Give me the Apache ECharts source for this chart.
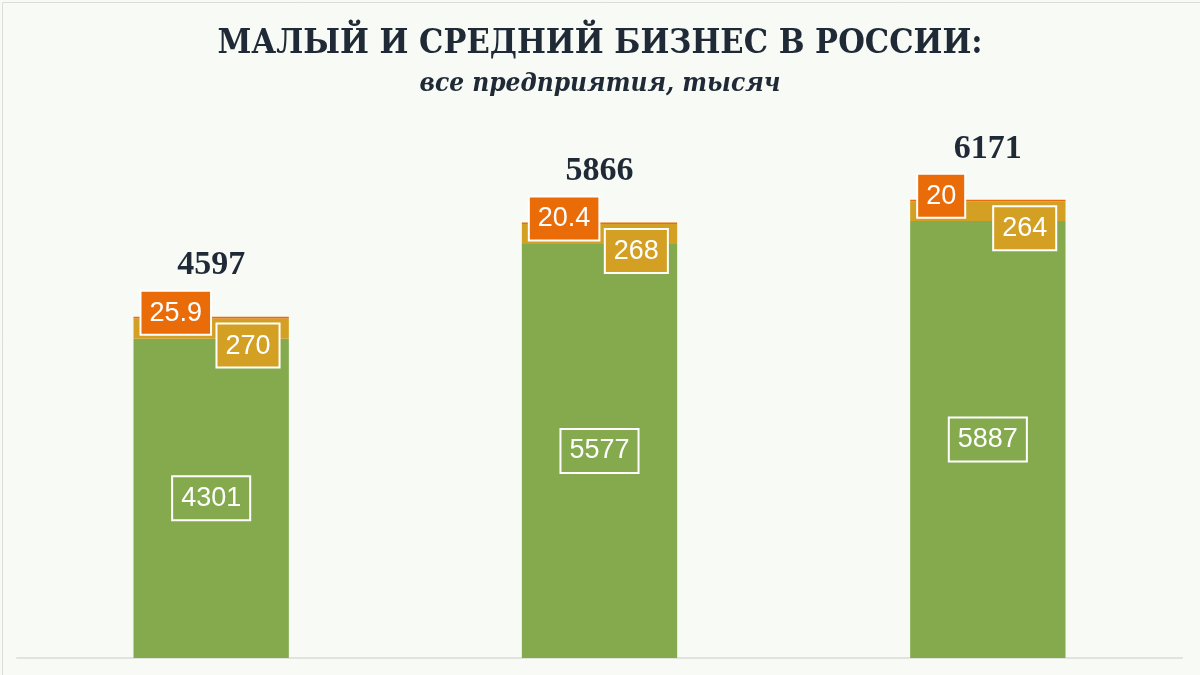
<!DOCTYPE html>
<html>
<head>
<meta charset="utf-8">
<script src="https://cdn.jsdelivr.net/npm/echarts@6/dist/echarts.min.js"></script>
<style>
html,body{margin:0;padding:0;background:#f8fbf5;}
#chart{width:1200px;height:675px;}
</style>
</head>
<body>
<div id="chart"></div>
<script>
// Data
const categories = ['A', 'B', 'C'];
const smallValues = [4301, 5577, 5887];   // green
const mediumValues = [270, 268, 264];     // gold
const largeValues = [25.9, 20.4, 20];     // orange
const totals = [4597, 5866, 6171];

const titleText = 'МАЛЫЙ И СРЕДНИЙ БИЗНЕС В РОССИИ:';
const subtitleText = 'все предприятия, тысяч';

const GREEN = '#84aa4d', GOLD = '#d3a024', ORANGE = '#ea6c09';
const boxLabel = (bg) => ({
  show: true,
  color: '#ffffff',
  fontFamily: 'Liberation Sans, Arial, sans-serif',
  fontSize: 27,
  backgroundColor: bg,
  borderColor: '#ffffff',
  borderWidth: 2,
  padding: [8, 8, 7, 8]
});

const chart = echarts.init(document.getElementById('chart'), null, {renderer: 'canvas'});
chart.setOption({
  backgroundColor: '#f8fbf5',
  animation: false,
  title: {
    text: titleText,
    subtext: subtitleText,
    left: 'center',
    top: 22,
    itemGap: 10,
    textStyle: {
      fontFamily: 'DejaVu Serif Condensed, DejaVu Serif, serif',
      fontWeight: 'bold',
      fontSize: 34,
      color: '#1f2a36'
    },
    subtextStyle: {
      fontFamily: 'DejaVu Serif Condensed, DejaVu Serif, serif',
      fontWeight: 'bold',
      fontStyle: 'italic',
      fontSize: 26,
      color: '#1f2a36'
    }
  },
  grid: {left: 17, right: 18, top: 64, bottom: 17},
  xAxis: {
    type: 'category',
    data: categories,
    axisLine: {show: true, lineStyle: {color: '#e2e3df', width: 2}},
    axisTick: {show: false},
    axisLabel: {show: false}
  },
  yAxis: {
    type: 'value', min: 0, max: 8000,
    show: false,
    splitLine: {show: false}
  },
  graphic: [{
    type: 'rect', left: 0, top: 0, silent: true,
    shape: {x: 0.5, y: 0.5, width: 1199, height: 674},
    style: {fill: 'none', stroke: '#dcdcdc', lineWidth: 1}
  }],
  series: [
    {
      name: 'small', type: 'bar', stack: 's', barWidth: '40%',
      data: smallValues,
      itemStyle: {color: GREEN},
      label: Object.assign(boxLabel(GREEN), {position: 'inside'})
    },
    {
      name: 'medium', type: 'bar', stack: 's',
      data: mediumValues,
      itemStyle: {color: GOLD},
      label: Object.assign(boxLabel(GOLD), {position: [84, 6]})
    },
    {
      name: 'large', type: 'bar', stack: 's',
      data: largeValues,
      itemStyle: {color: ORANGE},
      label: Object.assign(boxLabel(ORANGE), {position: [8, -25]})
    },
    {
      name: 'total', type: 'bar', stack: 's',
      data: totals.map(() => 0),
      itemStyle: {color: 'transparent'},
      label: {
        show: true, position: 'top', distance: 34,
        formatter: (p) => String(totals[p.dataIndex]),
        fontFamily: 'Liberation Serif, DejaVu Serif, serif',
        fontWeight: 'bold', fontSize: 34, color: '#1f2a36'
      }
    }
  ]
});
</script>
</body>
</html>
